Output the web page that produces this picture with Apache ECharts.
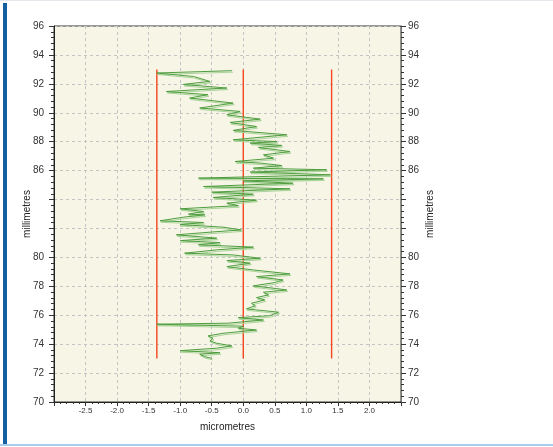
<!DOCTYPE html>
<html>
<head>
<meta charset="utf-8">
<script src="https://cdn.jsdelivr.net/npm/echarts@6/dist/echarts.min.js"></script>
<style>
html,body{margin:0;padding:0;background:#fff;}
#wrap{position:relative;width:553px;height:447px;overflow:hidden;}
#chart{position:absolute;left:0;top:0;width:553px;height:447px;}
#bar{position:absolute;left:3px;top:3px;width:4px;height:443px;background:#145fa0;}
#bottom{position:absolute;left:0;top:444px;width:553px;height:2px;background:#a8cde8;}
#top{position:absolute;left:0;top:0;width:553px;height:1px;background:#e4e8ec;}
</style>
</head>
<body>
<div id="wrap">
<div id="chart"></div>
<div id="bar"></div>
<div id="bottom"></div>
<div id="top"></div>
</div>
<script>
// profile: position along the length (millimetres) and deviation (micrometres)
const profileY = [92.91,92.75,92.51,92.17,91.96,91.71,91.47,91.25,91.02,90.67,90.33,90.09,89.86,89.56,89.33,89.05,88.78,88.48,88.13,88.01,87.90,87.74,87.60,87.32,87.09,86.86,86.63,86.52,86.35,86.17,86.06,85.90,85.71,85.48,85.43,85.29,85.13,84.90,84.74,84.51,84.37,84.14,83.96,83.75,83.58,83.36,83.17,82.99,82.94,82.78,82.53,82.41,82.27,82.09,81.90,81.76,81.56,81.33,81.16,81.02,80.87,80.71,80.52,80.29,80.17,79.94,79.78,79.60,79.36,79.13,78.86,78.67,78.44,78.26,78.03,77.84,77.75,77.59,77.41,77.22,77.06,76.83,76.66,76.44,76.21,75.97,75.83,75.67,75.45,75.38,75.24,75.10,74.98,74.75,74.57,74.41,74.22,74.06,73.88,73.72,73.55,73.41,73.30,73.13,73.02];
const profileX = [-0.18,-1.37,-0.79,-0.53,-0.95,-0.26,-1.22,-0.56,-0.85,-0.16,-0.69,-0.05,-0.26,0.27,-0.21,0.21,-0.16,0.69,-0.16,0.53,0.11,0.61,0.24,0.74,0.32,0.48,-0.13,0.27,0.61,0.16,1.32,0.11,1.38,-0.71,1.27,0.00,0.79,-0.63,0.74,-0.50,0.16,-0.48,0.21,-0.26,-0.08,-1.00,-0.63,-0.87,-0.61,-0.95,-1.32,-0.63,-1.00,-0.32,-0.03,-0.48,-1.06,-0.42,-1.00,-0.37,-0.71,0.16,-0.42,-0.93,-0.16,0.27,-0.26,0.11,-0.26,0.16,0.74,0.21,0.63,0.50,0.16,0.53,0.69,0.32,0.40,0.21,0.34,0.13,0.19,0.05,0.56,0.42,-0.08,0.32,-0.24,-1.37,0.00,-0.08,0.21,-0.32,-0.56,-0.48,-0.53,-0.42,-0.18,-0.42,-1.00,-0.37,-0.69,-0.61,-0.50];
// reference lines (micrometres) and their extent (millimetres)
const limitX = [-1.37, 0.0, 1.40];
const limitY = [73, 93];
// axis labels
const xLabels = ['-2.5','-2.0','-1.5','-1.0','-0.5','0.0','0.5','1.0','1.5','2.0'];
const yLabels = ['70','72','74','76','78','80','86','88','90','92','94','96'];
const xName = 'micrometres';
const yName = 'millimetres';

const chart = echarts.init(document.getElementById('chart'), null, {renderer:'canvas'});
const FONT = 'Liberation Sans, Arial, sans-serif';
const profile = profileY.map((y,i)=>[profileX[i], y]);

function yAxisDef(pos){
  const left = pos === 'left';
  return {
    type:'value', position:pos, min:70, max:96, interval:2,
    name:yName, nameLocation:'middle', nameGap: left ? 22 : 24, nameRotate:90,
    nameMoveOverlap:false,
    nameTextStyle:{color:'#222', fontSize:10, fontFamily:FONT},
    axisLine:{show:true, onZero:false, lineStyle:{color: left ? '#222' : '#777', width:1}},
    axisTick:{show:true, inside:false, length:5, lineStyle:{color:'#333'}},
    minorTick:{show:true, splitNumber:5, length:3, lineStyle:{color:'#333'}},
    axisLabel:{margin: left ? 10 : 7, color:'#333', fontSize:10, fontFamily:FONT,
      formatter:v=>{const s=String(Math.round(v)); return yLabels.includes(s)?s:'';}},
    splitLine:{show:left, lineStyle:{color:'#c4c4c4', type:[3,3], width:1}}
  };
}

chart.setOption({
  animation:false,
  backgroundColor:'#ffffff',
  grid:{left:54, right:152, top:26, bottom:45, show:true, backgroundColor:'#f7f5e6', borderColor:'#333', borderWidth:1},
  xAxis:{
    type:'value', min:-3, max:2.5, interval:0.5,
    name:xName, nameLocation:'middle', nameGap:20, nameMoveOverlap:false,
    nameTextStyle:{color:'#222', fontSize:10, fontFamily:FONT},
    axisLine:{show:true, onZero:false, lineStyle:{color:'#222'}},
    axisTick:{show:true, length:4, lineStyle:{color:'#333'}},
    minorTick:{show:true, splitNumber:5, length:2, lineStyle:{color:'#333'}},
    axisLabel:{margin:5, color:'#333', fontSize:8, fontFamily:FONT,
      formatter:v=>{const s=v.toFixed(1); return xLabels.includes(s)?s:'';}},
    splitLine:{show:true, lineStyle:{color:'#c4c4c4', type:[3,3], width:1}}
  },
  yAxis:[yAxisDef('left'), yAxisDef('right')],
  series:[
    ...limitX.map(x=>({
      type:'line', xAxisIndex:0, yAxisIndex:0, symbol:'none', silent:true,
      data:limitY.map(y=>[x,y]),
      lineStyle:{color:'#f5461e', width:1.4, opacity:1}, z:3
    })),
    {
      type:'line', xAxisIndex:0, yAxisIndex:0, symbol:'none', sampling:null,
      data:profile,
      lineStyle:{color:'#4e9d3e', width:1, shadowColor:'#a9d49a', shadowBlur:0, shadowOffsetX:1, shadowOffsetY:1.5},
      z:4
    }
  ]
});
</script>
</body>
</html>
